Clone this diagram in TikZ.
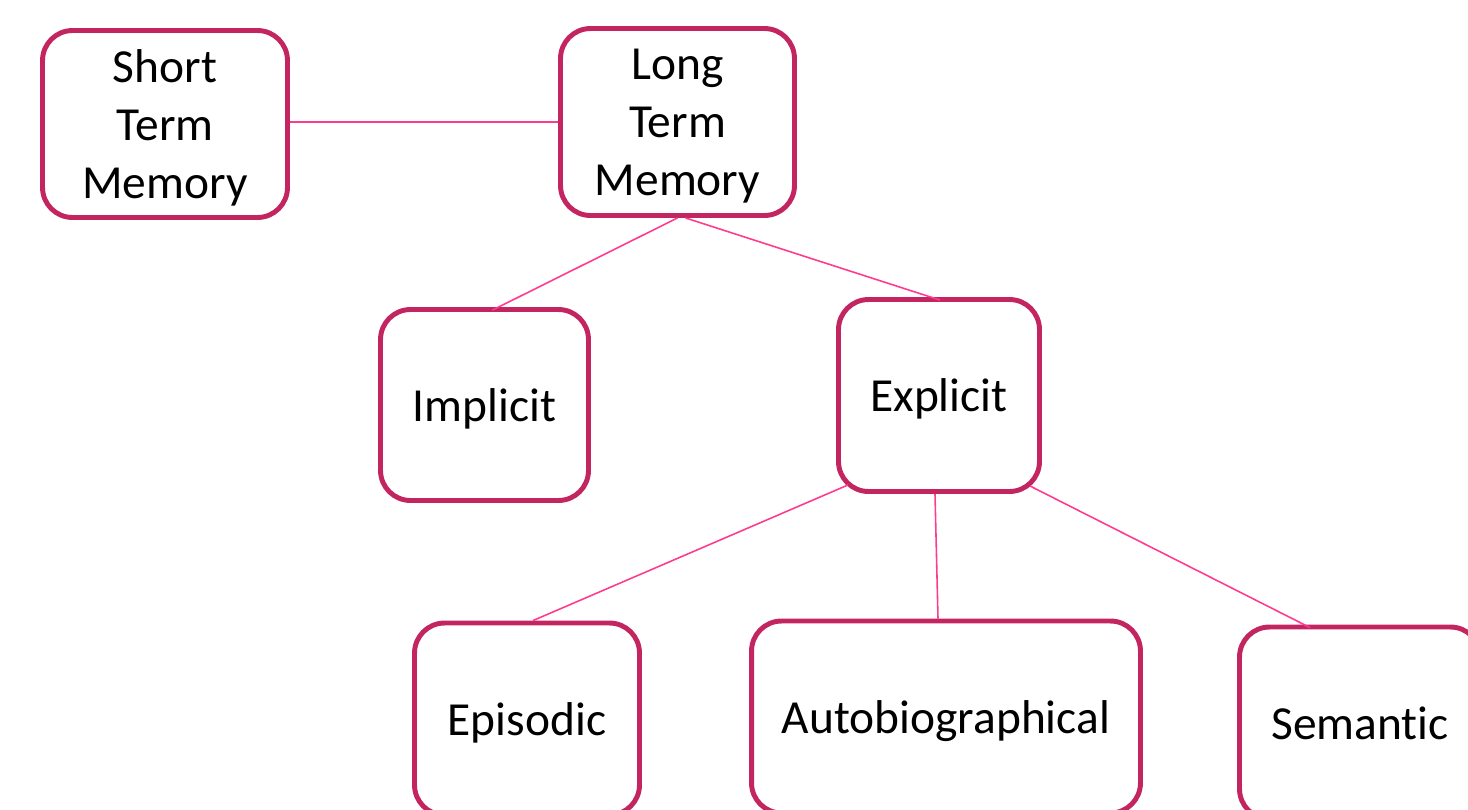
\documentclass[tikz,border=0pt]{standalone}
\usepackage{fontspec}
\setmainfont{Carlito}[Ligatures=NoCommon]
\usepackage{tikz}
\usetikzlibrary{positioning,calc}
\definecolor{boxline}{HTML}{C2255F}
\definecolor{linkpink}{HTML}{FF3B8E}

\tikzset{
  membox/.style={draw=boxline, line width=2.8pt, rounded corners=0.6cm, fill=white,
    align=center, inner sep=0pt, text depth=0pt, font=\fontsize{27}{33}\selectfont},
  link/.style={draw=linkpink, line width=0.9pt}
}

\begin{document}
\begin{tikzpicture}[x=0.02cm, y=-0.02cm]
  \useasboundingbox (0,0) rectangle (1468,809);
  % Top row
  \node[membox, minimum width=4.9cm, minimum height=3.74cm] (stm) at (165,124) {Short\\Term\\Memory};
  \node[membox, minimum width=4.68cm, minimum height=3.74cm] (ltm) at (677.5,122) {Long\\Term\\Memory};

  % Middle row
  \node[membox, minimum width=4.16cm, minimum height=3.82cm] (impl) at (484.5,405) {Implicit};
  \node[membox, minimum width=4.02cm, minimum height=3.84cm] (expl) at (939,395.5) {Explicit};

  % Bottom row
  \node[membox, minimum width=4.5cm, minimum height=3.84cm] (epis) at (527,719) {Episodic};
  \node[membox, minimum width=7.78cm, minimum height=3.84cm] (auto) at (946,717) {Autobiographical};
  \node[membox, minimum width=4.82cm, minimum height=3.84cm] (sem) at (1360,723) {Semantic};

  % Connectors
  \draw[link] (stm.east |- ltm.west) -- (ltm.west);
  \draw[link] (ltm.south) -- ([shift={(8,3)}]impl.north);
  \draw[link] ([shift={(8,0)}]ltm.south) -- ([shift={(1,3)}]expl.north);
  \draw[link] ([shift={(12,-9)}]expl.south west) -- ([shift={(6,0)}]epis.north);
  \draw[link] ([shift={(-4,0)}]expl.south) -- ([shift={(-8,0)}]auto.north);
  \draw[link] ([shift={(-12,-8)}]expl.south east) -- ([shift={(-50,3)}]sem.north);
\end{tikzpicture}
\end{document}
